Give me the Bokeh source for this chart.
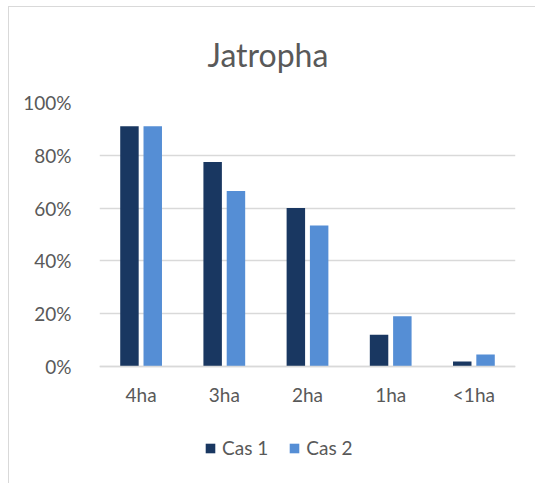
from bokeh.plotting import figure
from bokeh.models import ColumnDataSource, FactorRange, NumeralTickFormatter, Legend, LegendItem, Title
from bokeh.transform import dodge
from bokeh.embed import file_html
from bokeh.resources import INLINE

categories = ["4ha", "3ha", "2ha", "1ha", "<1ha"]
cas1 = [0.91, 0.775, 0.60, 0.12, 0.019]
cas2 = [0.91, 0.665, 0.534, 0.19, 0.045]
series_names = ["Cas 1", "Cas 2"]
colors = ["#193761", "#558ed5"]
y_ticks = [0, 0.2, 0.4, 0.6, 0.8, 1.0]

FONT = "Lato"
TXT = "#595959"
GRID = "#d9d9d9"

src = ColumnDataSource(dict(cat=categories, cas1=cas1, cas2=cas2))

p = figure(x_range=FactorRange(*categories), y_range=(1 - 377 / 264, 1),
           width=527, height=477, output_backend="svg", toolbar_location=None,
           min_border_left=90, min_border_right=21, min_border_top=95, min_border_bottom=5)

r1 = p.vbar(x=dodge("cat", -0.14, range=p.x_range), top="cas1", width=0.222, source=src,
            fill_color=colors[0], line_color=None)
r2 = p.vbar(x=dodge("cat", 0.14, range=p.x_range), top="cas2", width=0.222, source=src,
            fill_color=colors[1], line_color=None)

p.title = Title(text="Jatropha", align="left", offset=108, text_font=FONT, text_font_size="32px",
                text_font_style="normal", text_color=TXT, standoff=54, vertical_align="top")

p.outline_line_color = None
p.styles = {"border-top": "1px solid #d9d9d9", "border-left": "1px solid #d9d9d9",
            "margin-left": "8px", "margin-top": "6px"}

p.yaxis.formatter = NumeralTickFormatter(format="0%")
p.yaxis.ticker = y_ticks
p.yaxis.axis_line_color = None
p.yaxis.major_tick_line_color = None
p.yaxis.minor_tick_line_color = None
p.yaxis.major_label_text_font = FONT
p.yaxis.major_label_text_font_size = "19px"
p.yaxis.major_label_text_color = TXT
p.yaxis.major_label_standoff = 22

p.xaxis.fixed_location = 0
p.xaxis.axis_line_color = GRID
p.xaxis.axis_line_width = 1.5
p.xaxis.major_tick_line_color = None
p.xaxis.minor_tick_line_color = None
p.xaxis.major_label_text_font = FONT
p.xaxis.major_label_text_font_size = "19px"
p.xaxis.major_label_text_color = TXT
p.xaxis.major_label_standoff = 10

p.xgrid.grid_line_color = None
p.ygrid.grid_line_color = GRID
p.ygrid.grid_line_width = 1.5

legend = Legend(items=[LegendItem(label=series_names[0], renderers=[r1]),
                       LegendItem(label=series_names[1], renderers=[r2])],
                orientation="horizontal", location=(105, 20),
                label_text_font=FONT, label_text_font_size="19px", label_text_color=TXT,
                glyph_width=12, glyph_height=12, label_standoff=6, spacing=20,
                padding=0, margin=0, border_line_color=None, background_fill_alpha=0)
p.add_layout(legend, "center")

open("out.html", "w").write(file_html(p, INLINE))
